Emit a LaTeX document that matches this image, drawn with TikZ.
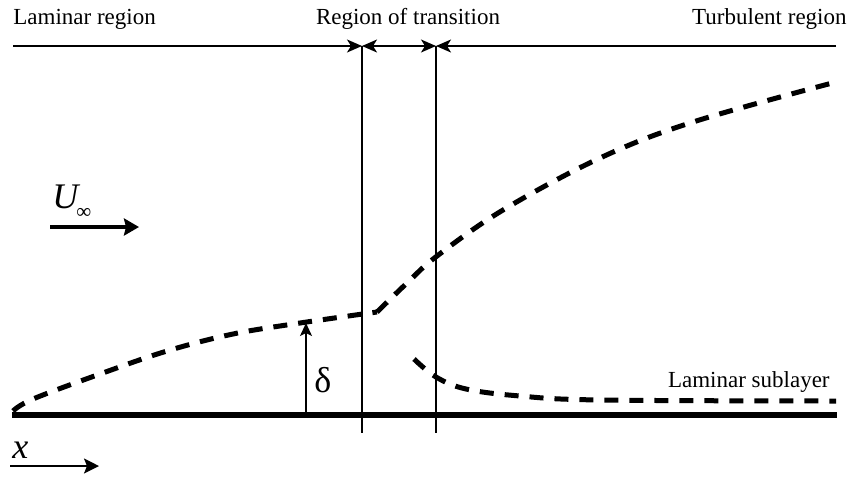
\documentclass[tikz,border=0pt]{standalone}
\usepackage{fontspec}
\setmainfont{Liberation Serif}
\usetikzlibrary{arrows.meta}
\begin{document}
\begin{tikzpicture}[x=0.5pt,y=-0.5pt,
  thinline/.style={line width=0.75pt},
  tipA/.style={-{Stealth[length=7.5pt,width=6.5pt,inset=2pt]}},
  tipB/.style={{Stealth[length=7.5pt,width=6.5pt,inset=2pt]}-{Stealth[length=7.5pt,width=6.5pt,inset=2pt]}},
  bl/.style={dash pattern=on 7pt off 5.5pt, line width=2.5pt},
  lbl/.style={font=\fontsize{11.5}{13}\selectfont, inner sep=0pt},
  sym/.style={font=\fontsize{18}{20}\selectfont, inner sep=0pt}]
\useasboundingbox (0,0) rectangle (849,477);
% coordinates
\coordinate (tl) at (13,46);
\coordinate (tr) at (836,46);
\coordinate (v1t) at (362,46);
\coordinate (v1b) at (362,433);
\coordinate (v2t) at (436,46);
\coordinate (v2b) at (436,433);
\coordinate (w0) at (12,415);
\coordinate (w1) at (837,415);
\coordinate (d0) at (306,412);
\coordinate (d1) at (306,323);
\coordinate (u0) at (50,227);
\coordinate (u1) at (139,227);
\coordinate (x0) at (10,466);
\coordinate (x1) at (99,466);
% top labels
\node[lbl, anchor=base west] (lam) at (13,24) {Laminar region};
\node[lbl, anchor=base] (tra) at (408,24) {Region of transition};
\node[lbl, anchor=base east] (tur) at (847,24) {Turbulent region};
\node[lbl, anchor=base east] (sub) at (830,387) {Laminar sublayer};
% top dimension lines
\draw[thinline, tipA] (tl) -- (v1t);
\draw[thinline, tipB] (v1t) -- (v2t);
\draw[thinline, tipA] (tr) -- (v2t);
% vertical lines
\draw[thinline] (v1t) -- (v1b);
\draw[thinline] (v2t) -- (v2b);
% wall
\draw[line width=3.2pt] (w0) -- (w1);
% boundary layer curves
\draw[bl] plot[smooth, tension=0.6] coordinates {(13,411) (33,399) (100,374) (167,351) (233,334) (300,323) (377,312)};
\draw[bl] plot[smooth, tension=0.6] coordinates {(377,312) (407,283) (437,256) (503,210) (600,158) (693,122) (836,82)};
\draw[bl] plot[smooth, tension=0.6] coordinates {(414,359) (436,377) (466,389) (520,396) (600,400) (836,401)};
% delta
\draw[thinline, -{Stealth[length=6.5pt,width=6pt,inset=1.5pt]}] (d0) -- (d1);
\node[sym, anchor=base west] (del) at (314,392) {δ};
% U infinity
\draw[line width=2.2pt, -{Stealth[length=7.5pt,width=8.5pt,inset=1pt]}] (u0) -- (u1);
\node[sym, anchor=base west] (U) at (52,208) {\textit{U}};
\node[font=\fontsize{10.5}{12}\selectfont, inner sep=0pt, anchor=base west] (inf) at (76,218) {∞};
% x
\draw[thinline, -{Stealth[length=7.5pt,width=7.5pt,inset=1.5pt]}] (x0) -- (x1);
\node[sym, anchor=base west] (xl) at (12,458) {\textit{x}};
\end{tikzpicture}
\end{document}
